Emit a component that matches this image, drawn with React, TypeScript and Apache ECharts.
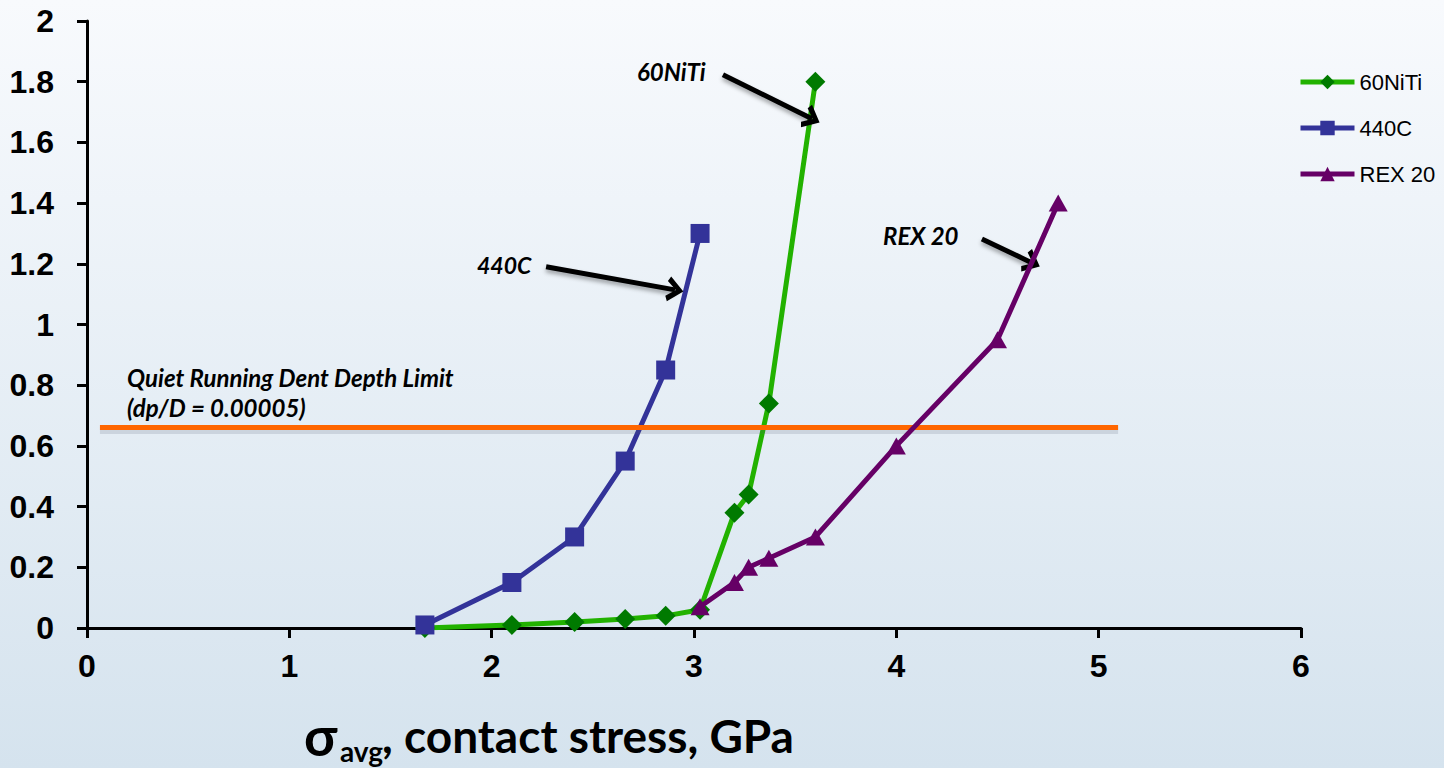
import React, { useEffect, useRef } from "react";
import * as echarts from "echarts";

const xTicks = [0, 1, 2, 3, 4, 5, 6];
const yMax = 2;
const seriesNames = ["60NiTi", "440C", "REX 20"];
const niti: [number, number][] = [
  [1.67, 0.0], [2.1, 0.01], [2.41, 0.02], [2.66, 0.03], [2.86, 0.04], [3.03, 0.06],
  [3.2, 0.38], [3.27, 0.44], [3.37, 0.74], [3.6, 1.8],
];
const c440: [number, number][] = [
  [1.67, 0.01], [2.1, 0.15], [2.41, 0.3], [2.66, 0.55], [2.86, 0.85], [3.03, 1.3],
];
const rex20: [number, number][] = [
  [3.03, 0.07], [3.2, 0.15], [3.27, 0.2], [3.37, 0.23], [3.6, 0.3], [4.0, 0.6], [4.5, 0.95], [4.8, 1.4],
];
const dentLimit = 0.662;
const dentShadowOffset = 0.012;
const dentRange = [0.064, 5.096];
const arrowNiti = [[3.143, 1.823], [3.583, 1.678]];
const arrow440 = [[2.269, 1.19], [2.906, 1.114]];
const arrowRex = [[4.423, 1.282], [4.671, 1.203]];

const CHEVRON = "path://M50,0 L100,72 L80,84 L50,38 L20,84 L0,72 Z";
const annFont = "Lato, 'Open Sans', sans-serif";
const axisFont = "'Liberation Sans Narrow', 'Liberation Sans', Arial, sans-serif";

export default function App() {
  const ref = useRef<HTMLDivElement>(null);
  useEffect(() => {
    document.body.style.margin = "0";
    const chart = echarts.init(ref.current!, null, { renderer: "svg" });
    const arrowLine = (pts: number[][]) => [
      { coord: pts[0], symbol: "none" },
      { coord: pts[1], symbol: CHEVRON, symbolSize: [25, 17] },
    ];
    chart.setOption({
      animation: false,
      backgroundColor: {
        type: "linear", x: 0, y: 0, x2: 0, y2: 1,
        colorStops: [{ offset: 0, color: "#f8fafd" }, { offset: 1, color: "#d5e3ee" }],
      },
      grid: { left: 87, right: 143, top: 21, bottom: 140, outerBoundsMode: "none" },
      legend: {
        orient: "vertical", left: 1298, top: 71, padding: 0, itemWidth: 54, itemHeight: 18, itemGap: 24,
        data: seriesNames,
        lineStyle: { width: 5 },
        textStyle: { fontFamily: "'Liberation Sans', Arial, sans-serif", fontSize: 22, color: "#000", padding: [0, 0, 0, 0] },
      },
      xAxis: {
        type: "value", min: xTicks[0], max: xTicks[xTicks.length - 1], interval: 1,
        axisLine: { lineStyle: { color: "#000", width: 3 } },
        axisTick: { show: true, length: 10, lineStyle: { color: "#000", width: 3 } },
        splitLine: { show: false },
        axisLabel: { margin: 22, color: "#000", fontWeight: "bold", fontSize: 32, fontFamily: axisFont },
      },
      yAxis: {
        type: "value", min: 0, max: yMax, interval: 0.2,
        axisLine: { show: true, lineStyle: { color: "#000", width: 3 } },
        axisTick: { show: true, length: 10, lineStyle: { color: "#000", width: 3 } },
        splitLine: { show: false },
        axisLabel: { margin: 33, color: "#000", fontWeight: "bold", fontSize: 32, fontFamily: axisFont },
      },
      series: [
        {
          name: "dent", type: "line", data: [], silent: true, z: 2,
          markLine: {
            silent: true, animation: false, label: { show: false }, symbol: ["none", "none"],
            lineStyle: { color: "#ff6600", width: 5, type: "solid" },
            data: [
              [
                { coord: [dentRange[0], dentLimit - dentShadowOffset], lineStyle: { color: "rgba(90,100,120,0.18)", width: 7 } },
                { coord: [dentRange[1], dentLimit - dentShadowOffset] },
              ],
              [{ coord: [dentRange[0], dentLimit] }, { coord: [dentRange[1], dentLimit] }],
            ],
          },
        },
        {
          name: "60NiTi", type: "line", data: niti, symbol: "diamond", symbolSize: 20,
          lineStyle: { color: "#22b200", width: 5 }, itemStyle: { color: "#007a00" }, z: 3,
        },
        {
          name: "440C", type: "line", data: c440, symbol: "rect", symbolSize: 19,
          lineStyle: { color: "#333399", width: 5 }, itemStyle: { color: "#333399" }, z: 4,
        },
        {
          name: "REX 20", type: "line", data: rex20, symbol: "triangle", symbolSize: [19, 17],
          lineStyle: { color: "#660066", width: 5 }, itemStyle: { color: "#660066" }, z: 5,
        },
        {
          name: "arrows", type: "line", data: [], z: 6, silent: true,
          markLine: {
            silent: true, animation: false, label: { show: false },
            lineStyle: { color: "#000", width: 5, type: "solid", shadowColor: "rgba(0,0,0,0.35)", shadowBlur: 4, shadowOffsetY: 3 },
            symbol: ["none", "none"],
            data: [arrowLine(arrowNiti), arrowLine(arrow440), arrowLine(arrowRex)],
          },
        },
      ],
      graphic: [
        { type: "text", left: 637, top: 59, style: { text: "60NiTi", font: `italic bold 24px ${annFont}`, fill: "#000" } },
        { type: "text", left: 477, top: 253, style: { text: "440C", font: `italic bold 23px ${annFont}`, fill: "#000" } },
        { type: "text", left: 883, top: 223, style: { text: "REX 20", font: `italic bold 24px ${annFont}`, fill: "#000" } },
        { type: "text", left: 127, top: 365, style: { text: "Quiet Running Dent Depth Limit", font: `italic bold 24px ${annFont}`, fill: "#000" } },
        { type: "text", left: 127, top: 395, style: { text: "(dp/D = 0.00005)", font: `italic bold 24px ${annFont}`, fill: "#000" } },
        { type: "text", x: 304, y: 735, style: { text: "σ", font: `bold 54px ${annFont}`, fill: "#000", verticalAlign: "middle" } },
        { type: "text", x: 340, y: 751, style: { text: "avg", font: `bold 28px ${annFont}`, fill: "#000", verticalAlign: "middle" } },
        { type: "text", x: 382, y: 735, style: { text: ", contact stress, GPa", font: `bold 46px ${annFont}`, fill: "#000", verticalAlign: "middle" } },
      ],
    });
    return () => chart.dispose();
  }, []);
  return <div ref={ref} style={{ width: 1444, height: 768, position: "absolute", left: 0, top: 0 }} />;
}
